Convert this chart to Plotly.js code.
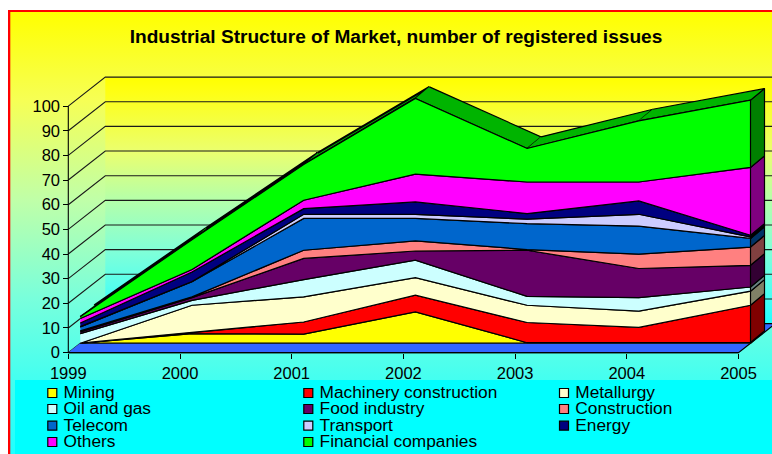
<!DOCTYPE html>
<html><head><meta charset="utf-8">
<script src="https://cdn.plot.ly/plotly-3.0.1.min.js"></script>
<style>html,body{margin:0;padding:0;background:#fff;overflow:hidden}#c{width:772px;height:454px}</style>
</head><body><div id="c"></div>
<script>
// ---------- data ----------
const years = [1999, 2000, 2001, 2002, 2003, 2004, 2005];
const mining       = [0, 3.9, 3.7, 12.7, 0.2, 0.3, 0.3];
const machinery    = [0, 0.5, 4.9, 6.8, 8.2, 6.1, 15.1];
const metallurgy   = [0, 11, 10.2, 7.1, 7, 6.6, 5.7];
const oilAndGas    = [3.9, 2, 7, 7.1, 3.6, 5.5, 1.7];
const foodIndustry = [0.7, 1.1, 8.6, 3.7, 18.7, 11.8, 8.8];
const construction = [0.4, 0.3, 3.3, 4.1, 0.3, 5.8, 7.4];
const telecom      = [1.6, 6.1, 12.9, 9.1, 10.5, 11.4, 3.5];
const transport    = [0.1, 0.1, 1.7, 1.7, 1.8, 4.8, 0.6];
const energy       = [1.5, 3.9, 2.3, 5, 2.3, 5.4, 0.7];
const others       = [1.8, 1, 3.4, 11.3, 12.8, 7.7, 27.5];
const financial    = [0.7, 12.1, 14.5, 30.7, 13.6, 24.8, 27.3];
const seriesNames = ['Mining','Machinery construction','Metallurgy','Oil and gas','Food industry','Construction','Telecom','Transport','Energy','Others','Financial companies'];
const seriesValues = [mining,machinery,metallurgy,oilAndGas,foodIndustry,construction,telecom,transport,energy,others,financial];
const seriesColors = ['#ffff00','#ff0000','#ffffcc','#ccffff','#660066','#ff8080','#0066cc','#ccccff','#000080','#ff00ff','#00ff00'];
const sideColors   = ['#808000','#800000','#808066','#668080','#330033','#804040','#003366','#666680','#000040','#800080','#008000'];
const valueTicks = [0,10,20,30,40,50,60,70,80,90,100];
const chartTitle = 'Industrial Structure of Market, number of registered issues';

// ---------- page <-> axis mapping ----------
const W = 772, H = 454;
const X0 = 68.3, YSTEP = 111.7, Y0 = 352.6, VSTEP = 2.465;
const xp = px => 1999 + (px - X0) / YSTEP;
const yp = py => (Y0 - py) / VSTEP;
const dx = px => px / YSTEP, dy = py => py / VSTEP;
const FRONT = [dx(12), dy(9.4)], BACK = [dx(26), dy(21)], WALL = [dx(37), dy(29)];

const FONT = 'Liberation Sans, Arial, sans-serif';
const traces = [];
function poly(xs, ys, fill, line, width) {
  traces.push({type:'scatter', mode: line ? 'lines' : 'none', x:xs, y:ys, fill:'toself', fillcolor:fill,
    line:{color: line||fill, width:width||1.2}, hoverinfo:'skip', showlegend:false});
}
const bgScale = [[0,'#ffff00'],[0.2,'#f6ff55'],[0.425,'#c0ffa8'],[0.65,'#78ffdc'],[0.83,'#44fff0'],[1,'#20ffff']];
const wallScale = [[0,'#ffff00'],[0.05,'#ffff10'],[0.3,'#ebff6e'],[0.5,'#b4ffaa'],[0.7,'#82ffd7'],[0.9,'#46fff5'],[1,'#20ffff']];
// chart area
poly([xp(8),xp(W+5),xp(W+5),xp(8)], [yp(10),yp(10),yp(H+5),yp(H+5)], '#ff0000');
traces.push({type:'scatter',mode:'none',x:[xp(10.3),xp(W+5),xp(W+5),xp(10.3)],y:[yp(12),yp(12),yp(H+5),yp(H+5)],fill:'toself',
  fillgradient:{type:'vertical',colorscale:bgScale,start:yp(12),stop:yp(454)},hoverinfo:'skip',showlegend:false});
// back wall
traces.push({type:'scatter',mode:'none',x:[1999+WALL[0],2005+WALL[0],2005+WALL[0],1999+WALL[0]],y:[WALL[1],WALL[1],100+WALL[1],100+WALL[1]],fill:'toself',
  fillgradient:{type:'vertical',colorscale:wallScale,start:100+WALL[1],stop:WALL[1]},hoverinfo:'skip',showlegend:false});
// legend panel
poly([xp(15),xp(W+5),xp(W+5),xp(15)], [yp(380),yp(380),yp(H+5),yp(H+5)], '#00ffff');
// wall grid lines
const gx=[], gy=[];
valueTicks.forEach(v=>{ gx.push(1999,1999+WALL[0],2005+WALL[0],null); gy.push(v,v+WALL[1],v+WALL[1],null); });
traces.push({type:'scatter',mode:'lines',x:gx,y:gy,line:{color:'#1a1a1a',width:1.1},hoverinfo:'skip',showlegend:false});
// floor
poly([1999,2005,2005+WALL[0],1999+WALL[0]],[0,0,WALL[1],WALL[1]],'#3366ff','#000000');
// stacked layers
const tops=[]; const bottoms=[];
seriesValues.forEach((vals,i)=>{
  bottoms.push(i?tops[i-1]:years.map(()=>0));
  tops.push(vals.map((v,k)=>bottoms[i][k]+v));
});
const n = years.length, last = n-1;
const fx = y => y+FRONT[0], bx = y => y+BACK[0];
const fy = v => v+FRONT[1], by = v => v+BACK[1];
// right end faces
seriesValues.forEach((vals,i)=>{
  const a=bottoms[i][last], b=tops[i][last];
  poly([fx(2005),bx(2005),bx(2005),fx(2005)],[fy(a),by(a),by(b),fy(b)],sideColors[i],'#000000');
});
// top faces of uppermost layer (steeply rising faces are seen nearly edge-on)
const topVals = tops[tops.length-1];
for(let k=0;k<last;k++){
  const steep = topVals[k+1]-topVals[k] > 20;
  poly([fx(years[k]),fx(years[k+1]),bx(years[k+1]),bx(years[k])],
       [fy(topVals[k]),fy(topVals[k+1]),by(topVals[k+1]),by(topVals[k])],'#00b400','#000000', steep?2:1.2);
}
// front faces
seriesValues.forEach((vals,i)=>{
  const xs=years.map(fx).concat(years.map(fx).reverse());
  const ys=tops[i].map(fy).concat(bottoms[i].map(fy).reverse());
  traces.push({type:'scatter',mode:'lines',x:xs,y:ys,fill:'toself',fillcolor:seriesColors[i],line:{color:'#000000',width:1.2},
    name:seriesNames[i],hoverinfo:'name',showlegend:false});
});
// y axis line
traces.push({type:'scatter',mode:'lines',x:[1999,1999,null,1999,2005],y:[0,100,null,0,0],line:{color:'#000',width:1.1},hoverinfo:'skip',showlegend:false});
// legend: swatch + real text
const colX=[52.3,308.3,564], rowY=[393,409,425.7,442];
seriesNames.forEach((nm,i)=>{
  const px=colX[i%3], py=rowY[Math.floor(i/3)];
  traces.push({type:'scatter',mode:'markers',x:[xp(px)],y:[yp(py)],marker:{symbol:'square',size:9,color:seriesColors[i],line:{color:'#000',width:1.2}},
    hoverinfo:'skip',showlegend:false});
  traces.push({type:'scatter',mode:'text',x:[xp(px+11.3)],y:[yp(py+0.8)],text:[nm],textposition:'middle right',
    textfont:{family:FONT,size:17.3,color:'#000'},name:nm,hoverinfo:'skip',showlegend:false});
});

const layout = {
  width:W,height:H,margin:{l:0,r:0,t:0,b:0,pad:0},paper_bgcolor:'#ffffff',plot_bgcolor:'rgba(0,0,0,0)',showlegend:false,
  hovermode:false,
  title:{text:'<b>'+chartTitle+'</b>',font:{family:FONT,size:19.1,color:'#000'},x:396/W,xanchor:'center',y:1-36/H,yanchor:'middle'},
  xaxis:{type:'linear',range:[xp(0),xp(W)],anchor:'free',position:1-Y0/H,tickmode:'array',tickvals:years,ticktext:years.map(String),
    ticks:'outside',ticklen:5,tickwidth:1,tickcolor:'#000',showgrid:false,zeroline:false,showline:false,fixedrange:true,ticklabelstandoff:1,
    tickfont:{family:FONT,size:16.5,color:'#000'}},
  yaxis:{type:'linear',range:[yp(H),yp(0)],anchor:'free',position:X0/W,tickmode:'array',tickvals:valueTicks,
    ticks:'outside',ticklen:5,tickwidth:1,tickcolor:'#000',showgrid:false,zeroline:false,showline:false,fixedrange:true,
    tickfont:{family:FONT,size:16.5,color:'#000'}}
};
Plotly.newPlot('c',traces,layout,{displayModeBar:false,staticPlot:true});
</script></body></html>
